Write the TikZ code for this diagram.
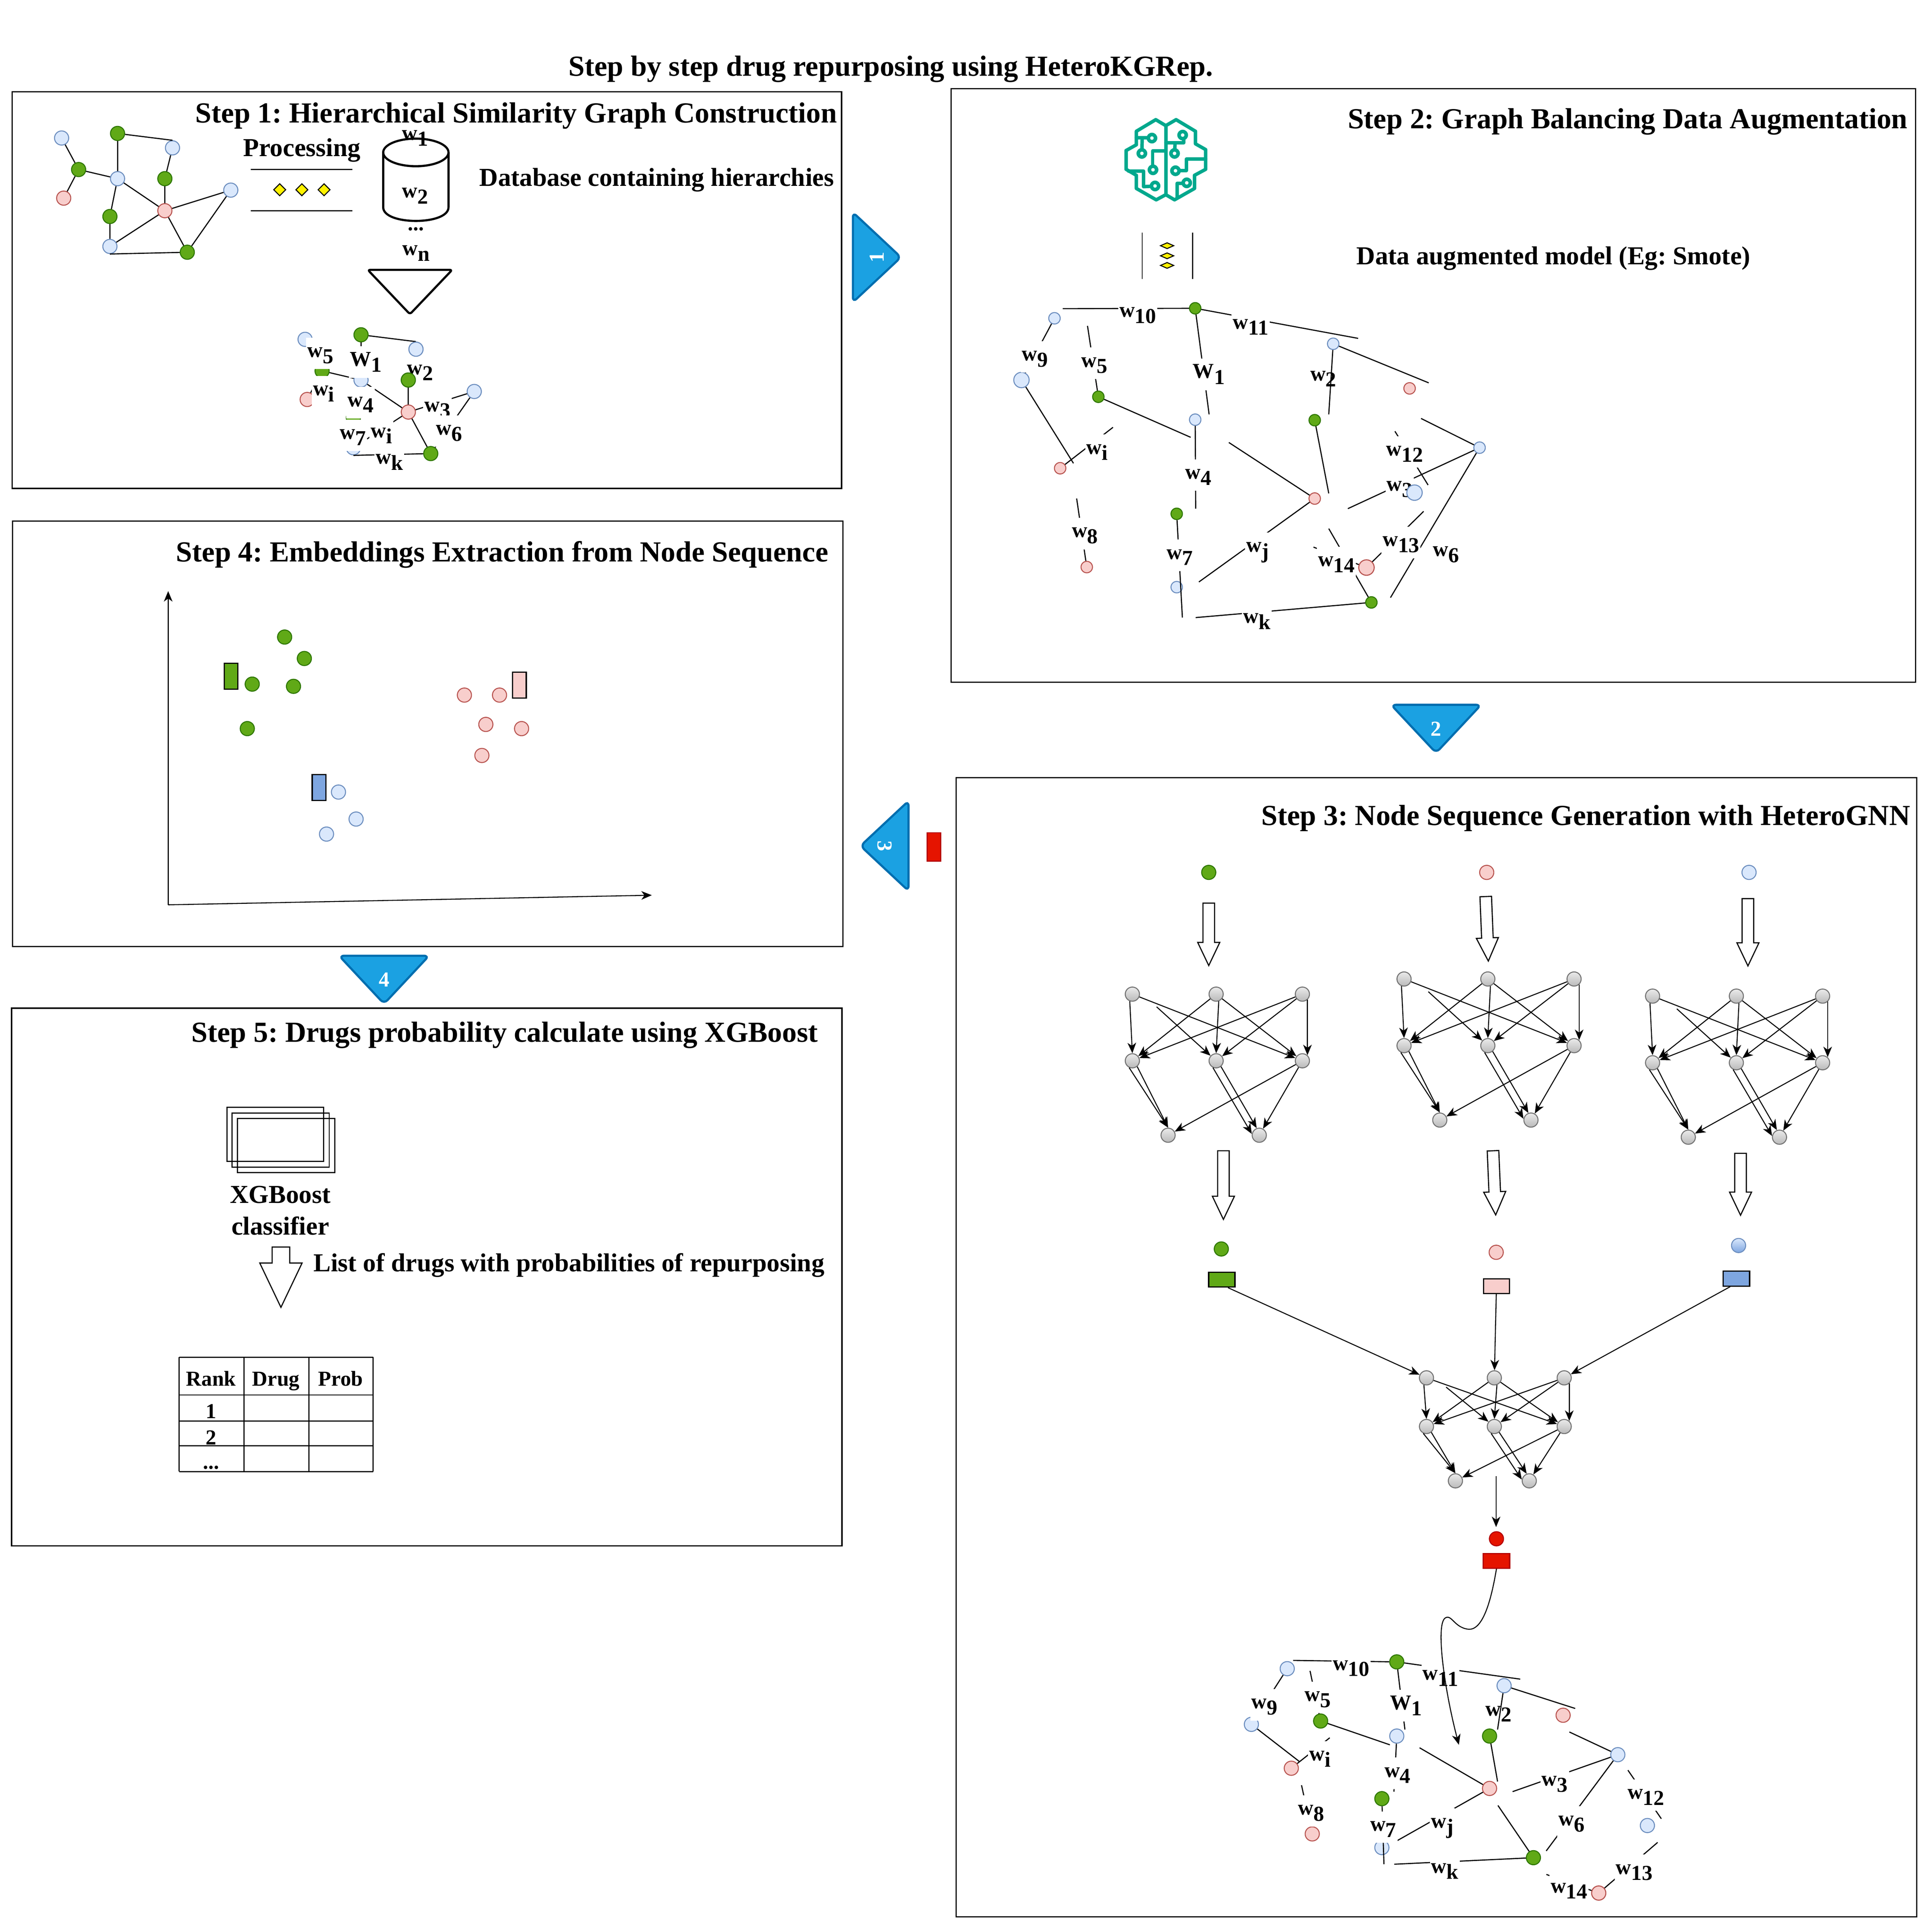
\documentclass[tikz,border=0pt]{standalone}
\usepackage{fontspec}
\setmainfont{Liberation Serif}
\usetikzlibrary{arrows.meta,shapes.geometric,shapes.arrows}
\frenchspacing
\definecolor{grn}{HTML}{60A917}
\definecolor{grnd}{HTML}{2D7600}
\definecolor{pnk}{HTML}{F8CECC}
\definecolor{pnkd}{HTML}{B85450}
\definecolor{blu}{HTML}{DAE8FC}
\definecolor{blud}{HTML}{6C8EBF}
\definecolor{blum}{HTML}{7EA6E0}
\definecolor{redf}{HTML}{E51400}
\definecolor{redd}{HTML}{B20000}
\definecolor{trif}{HTML}{1BA1E2}
\definecolor{trid}{HTML}{006EAF}
\definecolor{teal1}{HTML}{01A88D}
\tikzset{
  nd/.style={circle,inner sep=0pt,minimum size=11.5pt,line width=.8pt},
  ndg/.style={nd,draw=grnd,fill=grn},
  ndp/.style={nd,draw=pnkd,fill=pnk},
  ndb/.style={nd,draw=blud,fill=blu},
  ndy/.style={nd,draw=black!55,top color=black!8,bottom color=black!27},
  ndr/.style={nd,draw=redd,fill=redf},
  vec/.style={rectangle,inner sep=0pt,draw=black,line width=1pt},
  stepbox/.style={draw=black,line width=1pt},
  edge/.style={line width=.9pt},
  netarr/.style={-{Stealth[length=8.5pt,width=7pt,inset=2.5pt]},line width=.8pt},
  tribtn/.style={draw=trid,fill=trif,line width=1.75pt,rounded corners=4pt},
  hollow/.style={single arrow,draw=black,fill=white,inner xsep=0pt,inner ysep=4.25pt,outer sep=0pt,
    single arrow head extend=4.25pt,single arrow tip angle=51,anchor=tail,line width=.9pt},
  title/.style={font=\bfseries\fontsize{23.6}{28}\selectfont,inner sep=0pt},
  capt/.style={font=\bfseries\fontsize{21}{25.7}\selectfont,inner sep=0pt,align=center},
  cell/.style={font=\bfseries\fontsize{17.3}{20}\selectfont,inner sep=0pt},
  wlab/.style={fill=white,inner xsep=1pt,inner ysep=0pt,text height=16pt,text depth=9.6pt,yshift=1.2pt,
    font=\bfseries\fontsize{17.3}{20}\selectfont},
  dmd/.style={diamond,draw=black,fill=yellow,inner sep=0pt,minimum width=10pt,minimum height=10pt,line width=.8pt}
}
\newcommand{\wsub}[2]{#1\raisebox{-.28em}{#2}}
% small graph of step 1
\newcommand{\drawsimgraph}[3]{
\begin{scope}[shift={(#2,#3)}]
  \foreach \nm/\px/\py in {b1/50/112,b2/140/120,b3/95.4/145,b4/187.3/154.3,b5/89.2/200}
    \node[ndb] (#1\nm) at (\px,\py) {};
  \foreach \nm/\px/\py in {g1/95.4/108.3,g2/63.8/137.6,g3/133.8/145,g4/89.2/175.7,g5/152/204.7}
    \node[ndg] (#1\nm) at (\px,\py) {};
  \foreach \nm/\px/\py in {r1/51.7/160.8,r2/133.8/171}
    \node[ndp] (#1\nm) at (\px,\py) {};
\end{scope}
\foreach \u/\v in {b1/g2,g1/b3,g2/b3,g2/r1,b2/g3,g3/r2,b3/r2,b3/g4,r2/b4,b4/g5,r2/g5,r2/b5,g4/b5}
  \draw[edge] (#1\u) -- (#1\v);
\draw[edge] (#1g1) -- (#1b2.north);
\draw[edge] (#1b5.south) -- (#1g5);
}
% the broken edges shared by the graphs of step 2 and step 3
\newcommand{\drawbrokenedges}[1]{
\foreach \u/\v in {b1/b3,f1/g1,f2/g2,g1/f3,g1/f4,b2/f6,g2/f7,f8/r2,b3/f24,b4/f9,f10/r3,g3/f11,f12/b5,f13/b5,
    f14/f15,f16/r5,b5/f17,f18/g5,f19/r5,r3/f20,g4/f21,f22/r4,f23/g5}
  \draw[edge] (#1\u) -- (#1\v);
}
% three layers of gray units
\newcommand{\drawnet}[5]{
\begin{scope}[shift={(#2,#3)},xscale=#4,yscale=#5]
  \foreach \nm/\px/\py in {t1/0/0,t2/68/0,t3/138/0,m1/0/54.1,m2/68/54.1,m3/138/54.1,e1/29/114.5,e2/103/114.5}
    \node[ndy] (#1\nm) at (\px,\py) {};
  \coordinate (#1f) at (19.7,10.3);
\end{scope}
\foreach \u/\v in {t1/m3,t2/m1,t2/m3,t3/m1,t3/m2,f/m2,m3/e1,m3/e2}
  \draw[netarr] (#1\u) -- (#1\v);
\draw[netarr] (#1t1.-110) -- (#1m1.north);
\draw[netarr] (#1t2.-70) -- (#1m2.north);
\draw[netarr] (#1t3.-48) -- (#1m3.48);
\draw[netarr] (#1m1.-115) -- (#1e1.north);
\draw[netarr] (#1m1.-50) -- (#1e1.north);
\draw[netarr] (#1m2.-115) -- (#1e2.170);
\draw[netarr] (#1m2.-50) -- (#1e2.110);
}
\newcommand{\steptri}[4]{
\begin{scope}[shift={(#2,#3)},rotate=#4]
  \draw[tribtn] (-36.5,-18) -- (36.5,-18) -- (0,21) -- cycle;
  \node[cell,white,transform shape] (tri#1) at (0,1.4) {#1};
\end{scope}
}
\begin{document}
\begin{tikzpicture}[x=1pt,y=-1pt]
\useasboundingbox (0,0) rectangle (1568,1565.4);
\node[title] (maintitle) at (723,56) {Step by step drug repurposing using HeteroKGRep.};

\draw[stepbox] (10,74.5) rectangle (683,396.4);
\draw[stepbox] (772,72) rectangle (1554.7,553.6);
\draw[stepbox] (776,631) rectangle (1555.5,1555.5);
\draw[stepbox] (10.3,423) rectangle (684.2,768.2);
\draw[stepbox] (9.4,818.2) rectangle (683.3,1254.6);
\node[title] (t1) at (419,94) {Step 1: Hierarchical Similarity Graph Construction};
\node[title] (t2) at (1321,98.7) {Step 2: Graph Balancing Data Augmentation};
\node[title] (t3) at (1287,664) {Step 3: Node Sequence Generation with HeteroGNN};
\node[title] (t4) at (407.6,450) {Step 4: Embeddings Extraction from Node Sequence};
\node[title] (t5) at (409.6,840) {Step 5: Drugs probability calculate using XGBoost};

\steptri{1}{710.2}{208.8}{90}
\steptri{2}{1165.5}{590}{0}
\steptri{3}{719.35}{686.5}{-90}
\steptri{4}{311.7}{793.65}{0}
\node[rectangle,draw=redd,fill=redf,inner sep=0pt,minimum width=11pt,minimum height=23pt,line width=.8pt] (outvec) at (758,687.3) {};

% step 1
\drawsimgraph{u}{0}{0}
\node[capt] (proc) at (245,122) {Processing};
\draw[edge] (203.4,137.6) -- (286,137.6);
\draw[edge] (203.4,171) -- (286,171);
\foreach \px in {227,245,263}
  \node[dmd] (d\px) at (\px,154) {};
\draw[line width=1.75pt] (337.5,123.7) ellipse [x radius=26.5,y radius=11.2];
\draw[line width=1.75pt] (311,123.7) -- (311,168.2) .. controls (311,183) and (364,183) .. (364,168.2) -- (364,123.7);
\node[cell] (dbw1) at (337,112) {\wsub{w}{1}};
\node[cell] (dbw2) at (337,159) {\wsub{w}{2}};
\node[cell] (dbdots) at (337.6,186) {...};
\node[cell] (dbwn) at (337.6,205.5) {\wsub{w}{n}};
\node[capt] (dbtxt) at (533,146) {Database containing hierarchies};
\draw[line width=1.75pt,rounded corners=2pt] (298.5,219) -- (367,219) -- (332.7,255) -- cycle;
\drawsimgraph{v}{197.6}{163.4}
\foreach \nm/\px/\py/\s in {5/260/288/5,2/341/302/2,i/262.7/319/i,4/292.6/328/4,3/355/332/3,6/364.4/351/6,7/286.4/354.5/7,j/309.5/353/i,k/316/374.6/k}
  \node[wlab] (vl\nm) at (\px,\py) {\wsub{w}{\s}};
\node[wlab] (vl1) at (297,295) {\wsub{W}{1}};
\node[ndb] (vb2b) at (337.6,283.4) {};
\node[ndg] (vg3b) at (331.4,308.4) {};

% step 2
\begin{scope}[shift={(897.4,87.4)},scale=.0971,line width=2.8pt,draw=teal1,line join=round,line cap=round]
  \draw (502,150) -- (418,100) -- (256,197) -- (256,310) -- (170,358) -- (170,515) -- (256,565) -- (256,675) -- (422,770) -- (502,727)
    -- (575,770) -- (742,675) -- (742,565) -- (835,515) -- (835,350) -- (750,302) -- (750,197) -- (588,100) -- cycle;
  \draw (502,150) -- (502,727);
  \draw (256,251) -- (386,251);
  \draw (305,251) -- (302,380);
  \draw (502,362) -- (392,362) -- (392,515);
  \draw (190,530) -- (316,530) -- (316,660) -- (412,655);
  \draw (502,293) -- (652,293) -- (652,240);
  \draw (580,293) -- (575,382);
  \draw (835,430) -- (673,430) -- (673,525) -- (583,525);
  \draw (597,745) -- (597,632) -- (677,632);
  \foreach \px/\py in {386/254,302/382,395/519,412/654,643/229,575/382,583/527,677/628} {
    \fill[teal1] (\px,\py) circle (45);
    \fill[white] (\px,\py) circle (15);
  }
\end{scope}
\draw[edge] (927,188.7) -- (927,226.4);
\draw[edge] (968,188.7) -- (968,226.4);
\foreach \py in {199.4,207.6,215.4}
  \node[dmd,minimum width=11pt,minimum height=5pt] (s\py) at (947.2,\py) {};
\node[capt] (augtxt) at (1260.8,209.6) {Data augmented model (Eg: Smote)};

\foreach \nm/\px/\py in {b1/855.8/258.3,b2/1082/279,b4/970/340.6,b5/1200.8/363.3,b7/955/476.5}
  \node[ndb,minimum size=9.3pt] (a\nm) at (\px,\py) {};
\node[ndb,minimum size=12.5pt] (ab3) at (829,308.4) {};
\foreach \nm/\px/\py in {g1/970/250.2,g2/891.4/322,g3/1067/341,g4/955/417,g5/1113/488.9}
  \node[ndg,minimum size=9.3pt] (a\nm) at (\px,\py) {};
\foreach \nm/\px/\py in {r1/1144/315.2,r2/860.4/380,r3/1067/404.6,r4/882/460.2}
  \node[ndp,minimum size=9.3pt] (a\nm) at (\px,\py) {};
\foreach \nm/\px/\py in {f1/862.5/250.5,f2/882.6/264.5,f3/981.3/336.3,f4/1102.2/274.6,f5/1078.4/336.3,f6/1159.5/310.7,
    f7/966.3/354.9,f8/903.3/346.8,f9/970.4/412.8,f10/997.3/359.1,f11/1078.4/400.4,f12/1153.3/339.6,f13/1093.9/412.8,
    f14/1132.1/350,f15/1159/393.6,f16/1155.4/415,f17/1128.5/485,f18/1078.4/429,f19/1066/444,f20/973/472.3,
    f21/959.6/501.2,f22/873.8/404.6,f23/970.4/501.2,f24/871.2/376}
  \coordinate (a\nm) at (\px,\py);
\node[ndp,minimum size=12.5pt] (ar5) at (1109,460.6) {};
\drawbrokenedges{a}
\foreach \nm/\px/\py in {10/923.4/255.4,11/1015/265,9/840/290.8,5/888.3/296,2/1074/307,12/1140/368,i/890.4/366.6,
    4/972.5/386.8,3/1136/396.5,13/1137/441.4,6/1173.5/449.5,j/1020.6/446,14/1084.6/457.6,7/957.5/451.8,8/880.5/434.2,k/1020/503.8}
  \node[wlab] (al\nm) at (\px,\py) {\wsub{w}{\nm}};
\node[wlab] (al1) at (981,305) {\wsub{W}{1}};
\draw[edge] (ab2) -- (af5);
\node[ndb,minimum size=12.5pt] (ab6) at (1148,399.8) {};
\node[ndp,minimum size=12.5pt] (ar5b) at (1109,460.6) {};

% step 3
\node[ndg] (ing) at (981,708) {};
\node[ndp] (inp) at (1206.6,708) {};
\node[ndb] (inb) at (1419.5,708) {};
\node[hollow,minimum height=50.7pt,rotate=-90] (bar1) at (981,732.9) {};
\node[hollow,minimum height=52.4pt,rotate=-87.7] (bar2) at (1205.8,727.6) {};
\node[hollow,minimum height=54.6pt,rotate=-90] (bar3) at (1418.6,729.3) {};
\drawnet{n}{919}{806.8}{1}{1}
\drawnet{o}{1139.5}{794.5}{1}{1}
\drawnet{p}{1341.2}{808.4}{1}{1}
\node[hollow,minimum height=55.7pt,rotate=-90] (bar4) at (992.9,933.9) {};
\node[hollow,minimum height=52.1pt,rotate=-87.6] (bar5) at (1211.7,933.9) {};
\node[hollow,minimum height=50.2pt,rotate=-90] (bar6) at (1412.6,936) {};
\node[ndg] (og) at (991.2,1013.6) {};
\node[ndp] (op) at (1214.3,1016.3) {};
\node[nd,draw=blud,top color=blu,bottom color=blum] (ob) at (1411,1010.8) {};
\node[vec,fill=grn,minimum width=21.3pt,minimum height=12pt] (vg) at (991.6,1038.5) {};
\node[vec,fill=pnk,minimum width=21pt,minimum height=12pt] (vp) at (1214.5,1043.8) {};
\node[vec,fill=blum,minimum width=21.5pt,minimum height=12pt] (vb) at (1409.2,1037.7) {};
\drawnet{q}{1157.7}{1118.2}{.81}{.73}
\draw[netarr] ([xshift=5pt]vg.south) -- (qt1);
\draw[netarr] (vp) -- (qt2);
\draw[netarr] ([xshift=-5pt]vb.south) -- (qt3);
\coordinate (qout) at (1214.2,1198);
\coordinate (qin) at (1214.2,1239.3);
\draw[netarr] (qout) -- (qin);
\node[ndr] (outc) at (1214.5,1248.8) {};
\node[vec,draw=redd,fill=redf,minimum width=21.4pt,minimum height=12pt] (outr) at (1214.5,1266.7) {};

\foreach \nm/\px/\py in {b1/1044.7/1354.2,b2/1220.7/1368,b3/1015.6/1399.4,b4/1133.6/1408.9,b5/1313/1424,b6/1337/1481.5,b7/1121.5/1499.4}
  \node[ndb] (c\nm) at (\px,\py) {};
\foreach \nm/\px/\py in {g1/1133.6/1348.7,g2/1071.8/1396.7,g3/1208.9/1408.9,g4/1121.5/1459.7,g5/1244.5/1507.6}
  \node[ndg] (c\nm) at (\px,\py) {};
\foreach \nm/\px/\py in {r1/1268.6/1392,r2/1048/1435,r3/1208.9/1451.4,r4/1065/1488.3,r5/1297.5/1536.3}
  \node[ndp] (c\nm) at (\px,\py) {};
\foreach \nm/\px/\py in {f1/1049.5/1347.5,f2/1063.2/1356,f3/1140.2/1403.6,f4/1233.8/1362.7,f5/1215.4/1403.6,f6/1278.4/1386.5,
    f7/1128/1416,f8/1079.2/1410.3,f9/1131.3/1454,f10/1152.1/1418.4,f11/1215.4/1445.8,f12/1273.7/1405.6,f13/1227.6/1454,
    f14/1321.2/1436.6,f15/1348.3/1476,f16/1345.3/1495.2,f17/1254.9/1502.1,f18/1215.7/1465.2,f19/1255/1521.2,f20/1133.9/1493.8,
    f21/1123.2/1512.9,f22/1056.3/1448.8,f23/1131.6/1512.9,f24/1054.6/1429.6}
  \coordinate (c\nm) at (\px,\py);
\drawbrokenedges{c}
\foreach \nm/\px/\py in {10/1096.5/1353.5,11/1169/1361.4,9/1026.3/1384.7,5/1069.4/1378.7,2/1216.3/1390.5,12/1335.8/1458,i/1071.2/1427,
    4/1134.2/1440.3,3/1261.8/1447.4,13/1326.3/1519,6/1275.5/1479.7,j/1170.5/1481.4,14/1273.4/1534,7/1122.6/1484,8/1064/1470.9,k/1172.6/1518}
  \node[wlab] (cl\nm) at (\px,\py) {\wsub{w}{\nm}};
\node[wlab] (cl1) at (1141,1385.5) {\wsub{W}{1}};
\draw[edge] (cb2) -- (cf5);
\node[ndp] (cr5b) at (1297.5,1536.3) {};
\coordinate (curveend) at (1184,1416);
\draw[netarr] (outr.south) .. controls (1210,1300) and (1203,1325) .. (1190.4,1322)
  .. controls (1180,1320) and (1178,1310) .. (1173,1313) .. controls (1165,1318) and (1172,1370) .. (curveend);

% step 4
\coordinate (ax0) at (136.5,734.3);
\coordinate (axy) at (136.5,479.7);
\coordinate (axx) at (529,726.5);
\draw[netarr] (ax0) -- (axy);
\draw[netarr] (ax0) -- (axx);
\foreach \px/\py [count=\i] in {231/517,247/534.4,204.7/555.2,238.2/557,200.7/591.3}
  \node[ndg] (eg\i) at (\px,\py) {};
\foreach \px/\py [count=\i] in {376.9/564.1,405.4/564.1,394.3/587.9,423.3/591.3,391.1/613.1}
  \node[ndp] (ep\i) at (\px,\py) {};
\foreach \px/\py [count=\i] in {274.7/642.8,289/664.7,265/676.9}
  \node[ndb] (eb\i) at (\px,\py) {};
\node[vec,fill=grn,minimum width=11pt,minimum height=21pt] (evg) at (187.5,548.8) {};
\node[vec,fill=pnk,minimum width=11pt,minimum height=21pt] (evp) at (421.6,556) {};
\node[vec,fill=blum,minimum width=11pt,minimum height=21pt] (evb) at (258.9,639) {};

% step 5
\draw[edge] (184.2,898.7) rectangle (262.7,942.5);
\draw[edge] (188.2,903.2) rectangle (267.2,947.2);
\draw[edge] (192.7,907.7) rectangle (271.6,951.7);
\node[capt] (xgb) at (227.5,982.3) {XGBoost\\classifier};
\node[hollow,inner ysep=6.7pt,single arrow head extend=10pt,minimum height=49pt,rotate=-90] (xgbar) at (228,1012) {};
\node[capt] (listtxt) at (461.8,1026.8) {List of drugs with probabilities of repurposing};
\foreach \px in {145.4,198,250.7,302.8}
  \draw[edge] (\px,1101.5) -- (\px,1194.3);
\foreach \py in {1101.5,1132.1,1153.2,1173.2,1194.3}
  \draw[edge] (145.4,\py) -- (302.8,\py);
\node[cell,anchor=base] (hrank) at (171.3,1124.6) {Rank};
\node[cell,anchor=base] (hdrug) at (223.9,1124.6) {Drug};
\node[cell,anchor=base] (hprob) at (276.5,1124.6) {Prob};
\node[cell] (row1) at (171.3,1145.2) {1};
\node[cell] (row2) at (171.3,1166.6) {2};
\node[cell] (row3) at (171.3,1191) {...};
\end{tikzpicture}
\end{document}
